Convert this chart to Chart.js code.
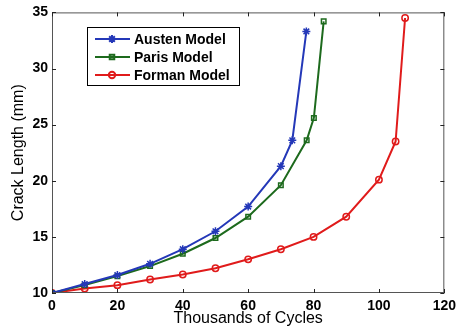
<!DOCTYPE html>
<html>
<head>
<meta charset="utf-8">
<script src="https://cdn.jsdelivr.net/npm/chart.js@4"></script>
<style>
  html, body { margin: 0; padding: 0; background: #fff; }
  #wrap { width: 461px; height: 328px; position: relative; }
</style>
</head>
<body>
<div id="wrap"><canvas id="grafico"></canvas></div>
<script>
// datos (miles de ciclos, mm)
const austenX = [0, 10, 20, 30, 40, 50, 60, 70, 73.5, 77.8];
const austenY = [10, 10.8, 11.6, 12.6, 13.9, 15.5, 17.7, 21.3, 23.6, 33.3];

const parisX = [0, 10, 20, 30, 40, 50, 60, 70, 77.9, 80.1, 83.1];
const parisY = [10, 10.7, 11.5, 12.4, 13.5, 14.9, 16.8, 19.6, 23.6, 25.6, 34.2];

const formanX = [0, 10, 20, 30, 40, 50, 60, 70, 80, 90, 100, 105.1, 108];
const formanY = [10, 10.4, 10.7, 11.2, 11.65, 12.2, 13.0, 13.9, 15.0, 16.8, 20.1, 23.5, 34.5];

const nombres = ["Austen Model", "Paris Model", "Forman Model"];
const colores = ["#2438b8", "#1d6a1d", "#e01b1b"];
const estilos = ["star", "rect", "circle"];

const xTicks = [0, 20, 40, 60, 80, 100, 120];
const yTicks = [10, 15, 20, 25, 30, 35];

function puntos(xs, ys) {
  return xs.map((x, i) => ({ x: x, y: ys[i] }));
}

const fuente = "Arial, 'Liberation Sans', sans-serif";

// caja y marcas hacia adentro (estilo MATLAB)
const cajaPlugin = {
  id: "caja",
  afterDraw(chart) {
    const { ctx, chartArea: a, scales } = chart;
    ctx.save();
    ctx.strokeStyle = "#555";
    ctx.lineWidth = 1;
    ctx.strokeRect(a.left + 0.5, a.top + 0.5, a.right - a.left - 1, a.bottom - a.top - 1);
    ctx.strokeStyle = "#222";
    ctx.beginPath();
    xTicks.forEach(v => {
      const px = Math.round(scales.x.getPixelForValue(v)) + 0.5;
      ctx.moveTo(px, a.bottom); ctx.lineTo(px, a.bottom - 4);
      ctx.moveTo(px, a.top); ctx.lineTo(px, a.top + 4);
    });
    yTicks.forEach(v => {
      const py = Math.round(scales.y.getPixelForValue(v)) + 0.5;
      ctx.moveTo(a.left, py); ctx.lineTo(a.left + 4, py);
      ctx.moveTo(a.right, py); ctx.lineTo(a.right - 4, py);
    });
    ctx.stroke();

    // leyenda dentro del area
    const lx = 87, ly = 27, lw = 152, lh = 58;
    ctx.fillStyle = "#fff";
    ctx.fillRect(lx, ly, lw, lh);
    ctx.strokeStyle = "#000";
    ctx.strokeRect(lx + 0.5, ly + 0.5, lw, lh);
    ctx.font = "bold 14px " + fuente;
    ctx.textBaseline = "middle";
    chart.data.datasets.forEach((ds, i) => {
      const yy = ly + 12 + i * 18;
      ctx.strokeStyle = ds.borderColor;
      ctx.lineWidth = 2;
      ctx.beginPath();
      ctx.moveTo(lx + 8, yy); ctx.lineTo(lx + 43, yy);
      ctx.stroke();
      ctx.fillStyle = ds.pointBackgroundColor;
      Chart.helpers.drawPoint(ctx, {
        pointStyle: ds.pointStyle, radius: ds.pointRadius, borderWidth: 1.5, rotation: 0
      }, lx + 25, yy);
      ctx.fillStyle = "#000";
      ctx.fillText(ds.label, lx + 47, yy + 1);
    });
    ctx.restore();
  }
};

const ctx = document.getElementById("grafico").getContext("2d");
new Chart(ctx, {
  type: "line",
  data: {
    datasets: [
      { label: nombres[0], data: puntos(austenX, austenY) },
      { label: nombres[1], data: puntos(parisX, parisY) },
      { label: nombres[2], data: puntos(formanX, formanY) },
    ].map((d, i) => Object.assign(d, {
      borderColor: colores[i],
      backgroundColor: i === 0 ? colores[i] : "rgba(255,255,255,0)",
      pointBorderColor: colores[i],
      pointBackgroundColor: i === 0 ? colores[i] : "rgba(255,255,255,0)",
      pointStyle: estilos[i],
      pointRadius: i === 0 ? 4 : 3.2,
      pointBorderWidth: 1.5,
      borderWidth: 2,
      tension: 0,
      fill: false,
    })),
  },
  options: {
    responsive: true,
    maintainAspectRatio: false,
    animation: false,
    layout: { padding: { left: 0, right: 14, top: 10, bottom: 0 } },
    scales: {
      x: {
        type: "linear",
        min: 0, max: 120,
        afterBuildTicks: s => { s.ticks = xTicks.map(v => ({ value: v })); },
        afterFit: s => { s.height = 35; },
        grid: { display: false, drawTicks: false },
        border: { display: false },
        ticks: { color: "#000", font: { family: fuente, size: 14, weight: "bold" }, padding: 5, maxRotation: 0 },
        title: { display: true, text: "Thousands of Cycles", color: "#000", font: { family: fuente, size: 16 }, padding: { top: 0, bottom: 0 } },
      },
      y: {
        min: 10, max: 35,
        afterBuildTicks: s => { s.ticks = yTicks.map(v => ({ value: v })); },
        afterFit: s => { s.width = 52; },
        grid: { display: false, drawTicks: false },
        border: { display: false },
        ticks: { color: "#000", font: { family: fuente, size: 14, weight: "bold" }, padding: 4 },
        title: { display: true, text: "Crack Length (mm)", color: "#000", font: { family: fuente, size: 16 }, padding: { top: 9, bottom: 0 } },
      },
    },
    plugins: {
      legend: { display: false },
      tooltip: { enabled: false },
    },
  },
  plugins: [cajaPlugin],
});
</script>
</body>
</html>
